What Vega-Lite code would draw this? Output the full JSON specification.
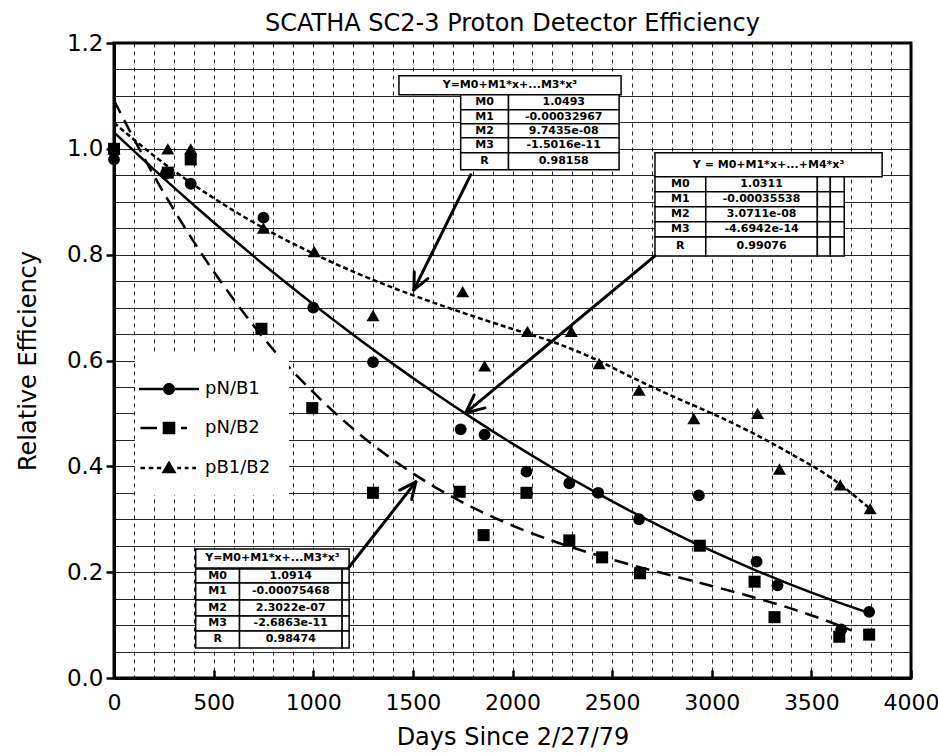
{
  "$schema": "https://vega.github.io/schema/vega-lite/v6.json",
  "autosize": "none",
  "width": 797,
  "height": 635,
  "padding": {"left": 114, "top": 43, "right": 27, "bottom": 75},
  "background": "white",
  "config": {
    "font": "DejaVu Sans",
    "view": {"stroke": "black", "strokeWidth": 3}
  },
  "title": {
    "text": "SCATHA SC2-3 Proton Detector Efficiency",
    "fontSize": 24,
    "fontWeight": "normal",
    "font": "DejaVu Sans",
    "color": "black",
    "anchor": "middle",
    "offset": 8,
    "dy": 12
  },
  "datasets": {
    "curves": [
      {"series": "pN/B1", "day": 0, "eff": 1.0311},
      {"series": "pN/B1", "day": 200, "eff": 0.9613},
      {"series": "pN/B1", "day": 400, "eff": 0.8939},
      {"series": "pN/B1", "day": 600, "eff": 0.829},
      {"series": "pN/B1", "day": 800, "eff": 0.7663},
      {"series": "pN/B1", "day": 1000, "eff": 0.7064},
      {"series": "pN/B1", "day": 1200, "eff": 0.6488},
      {"series": "pN/B1", "day": 1400, "eff": 0.5936},
      {"series": "pN/B1", "day": 1600, "eff": 0.5409},
      {"series": "pN/B1", "day": 1800, "eff": 0.4907},
      {"series": "pN/B1", "day": 2000, "eff": 0.4428},
      {"series": "pN/B1", "day": 2200, "eff": 0.3974},
      {"series": "pN/B1", "day": 2400, "eff": 0.3544},
      {"series": "pN/B1", "day": 2600, "eff": 0.3139},
      {"series": "pN/B1", "day": 2800, "eff": 0.2758},
      {"series": "pN/B1", "day": 3000, "eff": 0.2401},
      {"series": "pN/B1", "day": 3200, "eff": 0.2068},
      {"series": "pN/B1", "day": 3400, "eff": 0.176},
      {"series": "pN/B1", "day": 3600, "eff": 0.1476},
      {"series": "pN/B1", "day": 3800, "eff": 0.1216},
      {"series": "pN/B2", "day": 0, "eff": 1.0914},
      {"series": "pN/B2", "day": 200, "eff": 0.9495},
      {"series": "pN/B2", "day": 400, "eff": 0.8246},
      {"series": "pN/B2", "day": 600, "eff": 0.7157},
      {"series": "pN/B2", "day": 800, "eff": 0.6202},
      {"series": "pN/B2", "day": 1000, "eff": 0.5401},
      {"series": "pN/B2", "day": 1200, "eff": 0.4709},
      {"series": "pN/B2", "day": 1400, "eff": 0.4124},
      {"series": "pN/B2", "day": 1600, "eff": 0.3632},
      {"series": "pN/B2", "day": 1800, "eff": 0.3222},
      {"series": "pN/B2", "day": 2000, "eff": 0.288},
      {"series": "pN/B2", "day": 2200, "eff": 0.2593},
      {"series": "pN/B2", "day": 2400, "eff": 0.2349},
      {"series": "pN/B2", "day": 2600, "eff": 0.2134},
      {"series": "pN/B2", "day": 2800, "eff": 0.1935},
      {"series": "pN/B2", "day": 3000, "eff": 0.174},
      {"series": "pN/B2", "day": 3200, "eff": 0.1536},
      {"series": "pN/B2", "day": 3400, "eff": 0.131},
      {"series": "pN/B2", "day": 3600, "eff": 0.1049},
      {"series": "pN/B2", "day": 3700, "eff": 0.0901},
      {"series": "pB1/B2", "day": 0, "eff": 1.0493},
      {"series": "pB1/B2", "day": 200, "eff": 0.9871},
      {"series": "pB1/B2", "day": 400, "eff": 0.9321},
      {"series": "pB1/B2", "day": 600, "eff": 0.8833},
      {"series": "pB1/B2", "day": 800, "eff": 0.8402},
      {"series": "pB1/B2", "day": 1000, "eff": 0.8021},
      {"series": "pB1/B2", "day": 1200, "eff": 0.7681},
      {"series": "pB1/B2", "day": 1400, "eff": 0.7375},
      {"series": "pB1/B2", "day": 1600, "eff": 0.7098},
      {"series": "pB1/B2", "day": 1800, "eff": 0.684},
      {"series": "pB1/B2", "day": 2000, "eff": 0.6596},
      {"series": "pB1/B2", "day": 2200, "eff": 0.6357},
      {"series": "pB1/B2", "day": 2400, "eff": 0.605},
      {"series": "pB1/B2", "day": 2600, "eff": 0.568},
      {"series": "pB1/B2", "day": 2800, "eff": 0.533},
      {"series": "pB1/B2", "day": 3000, "eff": 0.5},
      {"series": "pB1/B2", "day": 3200, "eff": 0.464},
      {"series": "pB1/B2", "day": 3400, "eff": 0.423},
      {"series": "pB1/B2", "day": 3600, "eff": 0.378},
      {"series": "pB1/B2", "day": 3800, "eff": 0.318}
    ],
    "pts": [
      {"series": "pB1/B2", "day": 0, "eff": 1.0},
      {"series": "pB1/B2", "day": 270, "eff": 1.0},
      {"series": "pB1/B2", "day": 385, "eff": 1.0},
      {"series": "pB1/B2", "day": 750, "eff": 0.85},
      {"series": "pB1/B2", "day": 1005, "eff": 0.806},
      {"series": "pB1/B2", "day": 1300, "eff": 0.685},
      {"series": "pB1/B2", "day": 1750, "eff": 0.73},
      {"series": "pB1/B2", "day": 1860, "eff": 0.59},
      {"series": "pB1/B2", "day": 2075, "eff": 0.655},
      {"series": "pB1/B2", "day": 2295, "eff": 0.655},
      {"series": "pB1/B2", "day": 2435, "eff": 0.594},
      {"series": "pB1/B2", "day": 2635, "eff": 0.544},
      {"series": "pB1/B2", "day": 2910, "eff": 0.49},
      {"series": "pB1/B2", "day": 3230, "eff": 0.5},
      {"series": "pB1/B2", "day": 3340, "eff": 0.395},
      {"series": "pB1/B2", "day": 3645, "eff": 0.365},
      {"series": "pB1/B2", "day": 3795, "eff": 0.32},
      {"series": "pN/B2", "day": 0, "eff": 1.0},
      {"series": "pN/B2", "day": 270, "eff": 0.955},
      {"series": "pN/B2", "day": 385, "eff": 0.98},
      {"series": "pN/B2", "day": 740, "eff": 0.66},
      {"series": "pN/B2", "day": 995, "eff": 0.51},
      {"series": "pN/B2", "day": 1300, "eff": 0.35},
      {"series": "pN/B2", "day": 1735, "eff": 0.352},
      {"series": "pN/B2", "day": 1855, "eff": 0.27},
      {"series": "pN/B2", "day": 2070, "eff": 0.35},
      {"series": "pN/B2", "day": 2285, "eff": 0.26},
      {"series": "pN/B2", "day": 2450, "eff": 0.228},
      {"series": "pN/B2", "day": 2640, "eff": 0.198},
      {"series": "pN/B2", "day": 2940, "eff": 0.25},
      {"series": "pN/B2", "day": 3215, "eff": 0.182},
      {"series": "pN/B2", "day": 3315, "eff": 0.115},
      {"series": "pN/B2", "day": 3640, "eff": 0.078},
      {"series": "pN/B2", "day": 3790, "eff": 0.082},
      {"series": "pN/B1", "day": 0, "eff": 0.98},
      {"series": "pN/B1", "day": 260, "eff": 0.953},
      {"series": "pN/B1", "day": 385, "eff": 0.934},
      {"series": "pN/B1", "day": 750, "eff": 0.87},
      {"series": "pN/B1", "day": 1000, "eff": 0.7},
      {"series": "pN/B1", "day": 1300, "eff": 0.597},
      {"series": "pN/B1", "day": 1740, "eff": 0.47},
      {"series": "pN/B1", "day": 1860, "eff": 0.46},
      {"series": "pN/B1", "day": 2070, "eff": 0.39},
      {"series": "pN/B1", "day": 2285, "eff": 0.368},
      {"series": "pN/B1", "day": 2430, "eff": 0.35},
      {"series": "pN/B1", "day": 2635, "eff": 0.3},
      {"series": "pN/B1", "day": 2935, "eff": 0.345},
      {"series": "pN/B1", "day": 3225, "eff": 0.22},
      {"series": "pN/B1", "day": 3330, "eff": 0.175},
      {"series": "pN/B1", "day": 3650, "eff": 0.092},
      {"series": "pN/B1", "day": 3790, "eff": 0.125}
    ],
    "cells": [
      {"day": 1430, "day2": 2545, "eff": 1.102, "eff2": 1.138},
      {"day": 1740, "day2": 1980, "eff": 1.0737, "eff2": 1.1021},
      {"day": 1980, "day2": 2535, "eff": 1.0737, "eff2": 1.1021},
      {"day": 1740, "day2": 1980, "eff": 1.0473, "eff2": 1.0737},
      {"day": 1980, "day2": 2535, "eff": 1.0473, "eff2": 1.0737},
      {"day": 1740, "day2": 1980, "eff": 1.0208, "eff2": 1.0473},
      {"day": 1980, "day2": 2535, "eff": 1.0208, "eff2": 1.0473},
      {"day": 1740, "day2": 1980, "eff": 0.9924, "eff2": 1.0208},
      {"day": 1980, "day2": 2535, "eff": 0.9924, "eff2": 1.0208},
      {"day": 1740, "day2": 1980, "eff": 0.9603, "eff2": 0.9924},
      {"day": 1980, "day2": 2535, "eff": 0.9603, "eff2": 0.9924},
      {"day": 2715, "day2": 3855, "eff": 0.9471, "eff2": 0.9924},
      {"day": 2715, "day2": 2970, "eff": 0.9187, "eff2": 0.9471},
      {"day": 2970, "day2": 3530, "eff": 0.9187, "eff2": 0.9471},
      {"day": 3530, "day2": 3595, "eff": 0.9187, "eff2": 0.9471},
      {"day": 3595, "day2": 3665, "eff": 0.9187, "eff2": 0.9471},
      {"day": 2715, "day2": 2970, "eff": 0.8904, "eff2": 0.9187},
      {"day": 2970, "day2": 3530, "eff": 0.8904, "eff2": 0.9187},
      {"day": 3530, "day2": 3595, "eff": 0.8904, "eff2": 0.9187},
      {"day": 3595, "day2": 3665, "eff": 0.8904, "eff2": 0.9187},
      {"day": 2715, "day2": 2970, "eff": 0.862, "eff2": 0.8904},
      {"day": 2970, "day2": 3530, "eff": 0.862, "eff2": 0.8904},
      {"day": 3530, "day2": 3595, "eff": 0.862, "eff2": 0.8904},
      {"day": 3595, "day2": 3665, "eff": 0.862, "eff2": 0.8904},
      {"day": 2715, "day2": 2970, "eff": 0.8336, "eff2": 0.862},
      {"day": 2970, "day2": 3530, "eff": 0.8336, "eff2": 0.862},
      {"day": 3530, "day2": 3595, "eff": 0.8336, "eff2": 0.862},
      {"day": 3595, "day2": 3665, "eff": 0.8336, "eff2": 0.862},
      {"day": 2715, "day2": 2970, "eff": 0.7977, "eff2": 0.8336},
      {"day": 2970, "day2": 3530, "eff": 0.7977, "eff2": 0.8336},
      {"day": 3530, "day2": 3595, "eff": 0.7977, "eff2": 0.8336},
      {"day": 3595, "day2": 3665, "eff": 0.7977, "eff2": 0.8336},
      {"day": 410, "day2": 1180, "eff": 0.2079, "eff2": 0.2439},
      {"day": 410, "day2": 630, "eff": 0.1796, "eff2": 0.206},
      {"day": 630, "day2": 1145, "eff": 0.1796, "eff2": 0.206},
      {"day": 1145, "day2": 1180, "eff": 0.1796, "eff2": 0.206},
      {"day": 410, "day2": 630, "eff": 0.1474, "eff2": 0.1796},
      {"day": 630, "day2": 1145, "eff": 0.1474, "eff2": 0.1796},
      {"day": 1145, "day2": 1180, "eff": 0.1474, "eff2": 0.1796},
      {"day": 410, "day2": 630, "eff": 0.1172, "eff2": 0.1474},
      {"day": 630, "day2": 1145, "eff": 0.1172, "eff2": 0.1474},
      {"day": 1145, "day2": 1180, "eff": 0.1172, "eff2": 0.1474},
      {"day": 410, "day2": 630, "eff": 0.0888, "eff2": 0.1172},
      {"day": 630, "day2": 1145, "eff": 0.0888, "eff2": 0.1172},
      {"day": 1145, "day2": 1180, "eff": 0.0888, "eff2": 0.1172},
      {"day": 410, "day2": 630, "eff": 0.0567, "eff2": 0.0888},
      {"day": 630, "day2": 1145, "eff": 0.0567, "eff2": 0.0888},
      {"day": 1145, "day2": 1180, "eff": 0.0567, "eff2": 0.0888}
    ],
    "texts": [
      {"day": 1987, "eff": 1.12, "txt": "Y=M0+M1*x+...M3*x³"},
      {"day": 1860, "eff": 1.0879, "txt": "M0"},
      {"day": 2257, "eff": 1.0879, "txt": "1.0493"},
      {"day": 1860, "eff": 1.0605, "txt": "M1"},
      {"day": 2257, "eff": 1.0605, "txt": "-0.00032967"},
      {"day": 1860, "eff": 1.034, "txt": "M2"},
      {"day": 2257, "eff": 1.034, "txt": "9.7435e-08"},
      {"day": 1860, "eff": 1.0066, "txt": "M3"},
      {"day": 2257, "eff": 1.0066, "txt": "-1.5016e-11"},
      {"day": 1860, "eff": 0.9764, "txt": "R"},
      {"day": 2257, "eff": 0.9764, "txt": "0.98158"},
      {"day": 3285, "eff": 0.9698, "txt": "Y = M0+M1*x+...+M4*x³"},
      {"day": 2842, "eff": 0.9329, "txt": "M0"},
      {"day": 3250, "eff": 0.9329, "txt": "1.0311"},
      {"day": 2842, "eff": 0.9046, "txt": "M1"},
      {"day": 3250, "eff": 0.9046, "txt": "-0.00035538"},
      {"day": 2842, "eff": 0.8762, "txt": "M2"},
      {"day": 3250, "eff": 0.8762, "txt": "3.0711e-08"},
      {"day": 2842, "eff": 0.8478, "txt": "M3"},
      {"day": 3250, "eff": 0.8478, "txt": "-4.6942e-14"},
      {"day": 2842, "eff": 0.8157, "txt": "R"},
      {"day": 3250, "eff": 0.8157, "txt": "0.99076"},
      {"day": 795, "eff": 0.2259, "txt": "Y=M0+M1*x+...M3*x³"},
      {"day": 520, "eff": 0.1928, "txt": "M0"},
      {"day": 887, "eff": 0.1928, "txt": "1.0914"},
      {"day": 520, "eff": 0.1635, "txt": "M1"},
      {"day": 887, "eff": 0.1635, "txt": "-0.00075468"},
      {"day": 520, "eff": 0.1323, "txt": "M2"},
      {"day": 887, "eff": 0.1323, "txt": "2.3022e-07"},
      {"day": 520, "eff": 0.103, "txt": "M3"},
      {"day": 887, "eff": 0.103, "txt": "-2.6863e-11"},
      {"day": 520, "eff": 0.0728, "txt": "R"},
      {"day": 887, "eff": 0.0728, "txt": "0.98474"}
    ],
    "arrows": [
      {"day": 1790, "eff": 0.9509, "day2": 1505, "eff2": 0.7335},
      {"day": 1505, "eff": 0.7335, "day2": 1575, "eff2": 0.7546},
      {"day": 1505, "eff": 0.7335, "day2": 1507, "eff2": 0.7675},
      {"day": 2715, "eff": 0.7977, "day2": 1765, "eff2": 0.5009},
      {"day": 1765, "eff": 0.5009, "day2": 1862, "eff2": 0.5104},
      {"day": 1765, "eff": 0.5009, "day2": 1808, "eff2": 0.5352},
      {"day": 1180, "eff": 0.2098, "day2": 1515, "eff2": 0.3705},
      {"day": 1515, "eff": 0.3705, "day2": 1434, "eff2": 0.3552},
      {"day": 1515, "eff": 0.3705, "day2": 1494, "eff2": 0.3374}
    ]
  },
  "encoding": {
    "x": {
      "field": "day", "type": "quantitative",
      "scale": {"domain": [0, 4000], "nice": false, "zero": false},
      "axis": {
        "title": "Days Since 2/27/79",
        "titleFont": "DejaVu Sans", "titleFontSize": 24, "titleFontWeight": "normal", "titleColor": "black", "titlePadding": 12,
        "values": [0,100,200,300,400,500,600,700,800,900,1000,1100,1200,1300,1400,1500,1600,1700,1800,1900,2000,2100,2200,2300,2400,2500,2600,2700,2800,2900,3000,3100,3200,3300,3400,3500,3600,3700,3800,3900,4000],
        "labelExpr": "datum.value % 500 == 0 ? datum.label : ''",
        "format": "d",
        "labelFont": "DejaVu Sans", "labelFontSize": 22, "labelColor": "black",
        "labelFlush": false, "labelOverlap": false, "labelPadding": 22,
        "domainColor": "black", "domainWidth": 3,
        "tickColor": "black", "tickWidth": 2.5, "tickSize": -8,
        "tickOpacity": {"condition": {"test": "datum.value % 500 == 0", "value": 1}, "value": 0},
        "grid": true, "gridColor": "black", "gridWidth": 1, "gridDash": [4, 4],
        "gridOpacity": {"condition": {"test": "datum.value == 0 || datum.value == 4000", "value": 0}, "value": 0.85}
      }
    },
    "y": {
      "field": "eff", "type": "quantitative",
      "scale": {"domain": [0, 1.2], "nice": false, "zero": false},
      "axis": {
        "title": "Relative Efficiency",
        "titleFont": "DejaVu Sans", "titleFontSize": 24, "titleFontWeight": "normal", "titleColor": "black", "titlePadding": 26,
        "values": [0,0.05,0.1,0.15,0.2,0.25,0.3,0.35,0.4,0.45,0.5,0.55,0.6,0.65,0.7,0.75,0.8,0.85,0.9,0.95,1.0,1.05,1.1,1.15,1.2],
        "labelExpr": "round(datum.value*100) % 20 == 0 ? format(datum.value, '.1f') : ''",
        "labelFont": "DejaVu Sans", "labelFontSize": 23, "labelColor": "black",
        "labelFlush": false, "labelOverlap": false, "labelPadding": 3,
        "domainColor": "black", "domainWidth": 3,
        "tickColor": "black", "tickWidth": 2.5, "tickSize": 8,
        "tickOpacity": {"condition": {"test": "round(datum.value*100) % 20 == 0", "value": 1}, "value": 0},
        "grid": true, "gridColor": "black", "gridWidth": 1,
        "gridOpacity": {"condition": {"test": "datum.value == 0 || datum.value == 1.2", "value": 0}, "value": 0.85}
      }
    }
  },
  "layer": [
    {
      "data": {"name": "curves"},
      "transform": [{"filter": "datum.series == 'pN/B1'"}],
      "mark": {"type": "line", "color": "black", "strokeWidth": 2.5, "interpolate": "monotone"}
    },
    {
      "data": {"name": "curves"},
      "transform": [{"filter": "datum.series == 'pN/B2'"}],
      "mark": {"type": "line", "color": "black", "strokeWidth": 2.5, "interpolate": "monotone", "strokeDash": [14, 8]}
    },
    {
      "data": {"name": "curves"},
      "transform": [{"filter": "datum.series == 'pB1/B2'"}],
      "mark": {"type": "line", "color": "black", "strokeWidth": 2.5, "interpolate": "monotone", "strokeDash": [5, 3]}
    },
    {
      "data": {"name": "pts"},
      "mark": {"type": "point", "filled": true, "color": "black", "size": 1},
      "encoding": {
        "shape": {
          "field": "series", "type": "nominal",
          "scale": {
            "domain": ["pN/B1", "pN/B2", "pB1/B2"],
            "range": [
              "M-2,-0.085L-0.39,-0.085L-0.39,0.085L-2,0.085ZM0.39,-0.085L2,-0.085L2,0.085L0.39,0.085ZM-0.4,0A0.4,0.4,0,1,0,0.4,0A0.4,0.4,0,1,0,-0.4,0Z",
              "M-1.9,-0.085L-0.8,-0.085L-0.8,0.085L-1.9,0.085ZM-0.42,-0.42L0.42,-0.42L0.42,0.42L-0.42,0.42ZM0.8,-0.085L1.2,-0.085L1.2,0.085L0.8,0.085Z",
              "M-1.9,-0.085L-1.6,-0.085L-1.6,0.085L-1.9,0.085ZM-1.35,-0.085L-1.05,-0.085L-1.05,0.085L-1.35,0.085ZM-0.8,-0.085L-0.52,-0.085L-0.52,0.085L-0.8,0.085ZM-0.5,0.35L0,-0.5L0.5,0.35ZM0.55,-0.085L0.8,-0.085L0.8,0.085L0.55,0.085ZM1.05,-0.085L1.3,-0.085L1.3,0.085L1.05,0.085ZM1.55,-0.085L1.8,-0.085L1.8,0.085L1.55,0.085Z"
            ]
          },
          "legend": {
            "orient": "none", "legendX": 21, "legendY": 312,
            "title": null,
            "fillColor": "white",
            "padding": 18,
            "symbolSize": 900,
            "symbolFillColor": "black",
            "symbolOpacity": 1,
            "labelFont": "DejaVu Sans", "labelFontSize": 18, "labelColor": "black",
            "labelOffset": 20,
            "rowPadding": 14
          }
        }
      }
    },
    {
      "data": {"name": "pts"},
      "transform": [{"filter": "datum.series == 'pB1/B2'"}],
      "mark": {"type": "point", "filled": true, "color": "black", "opacity": 1, "size": 170, "shape": "triangle-up"}
    },
    {
      "data": {"name": "pts"},
      "transform": [{"filter": "datum.series == 'pN/B2'"}],
      "mark": {"type": "point", "filled": true, "color": "black", "opacity": 1, "size": 145, "shape": "square"}
    },
    {
      "data": {"name": "pts"},
      "transform": [{"filter": "datum.series == 'pN/B1'"}],
      "mark": {"type": "point", "filled": true, "color": "black", "opacity": 1, "size": 140, "shape": "circle"}
    },
    {
      "data": {"name": "cells"},
      "mark": {"type": "rect", "fill": "white", "stroke": "black", "strokeWidth": 1.5},
      "encoding": {
        "x2": {"field": "day2"},
        "y2": {"field": "eff2"}
      }
    },
    {
      "data": {"name": "texts"},
      "mark": {"type": "text", "font": "DejaVu Sans", "fontSize": 11, "fontWeight": "bold", "color": "black", "align": "center", "baseline": "middle"},
      "encoding": {
        "text": {"field": "txt"}
      }
    },
    {
      "data": {"name": "arrows"},
      "mark": {"type": "rule", "color": "black", "strokeWidth": 3, "strokeCap": "round"},
      "encoding": {
        "x2": {"field": "day2"},
        "y2": {"field": "eff2"}
      }
    }
  ]
}
